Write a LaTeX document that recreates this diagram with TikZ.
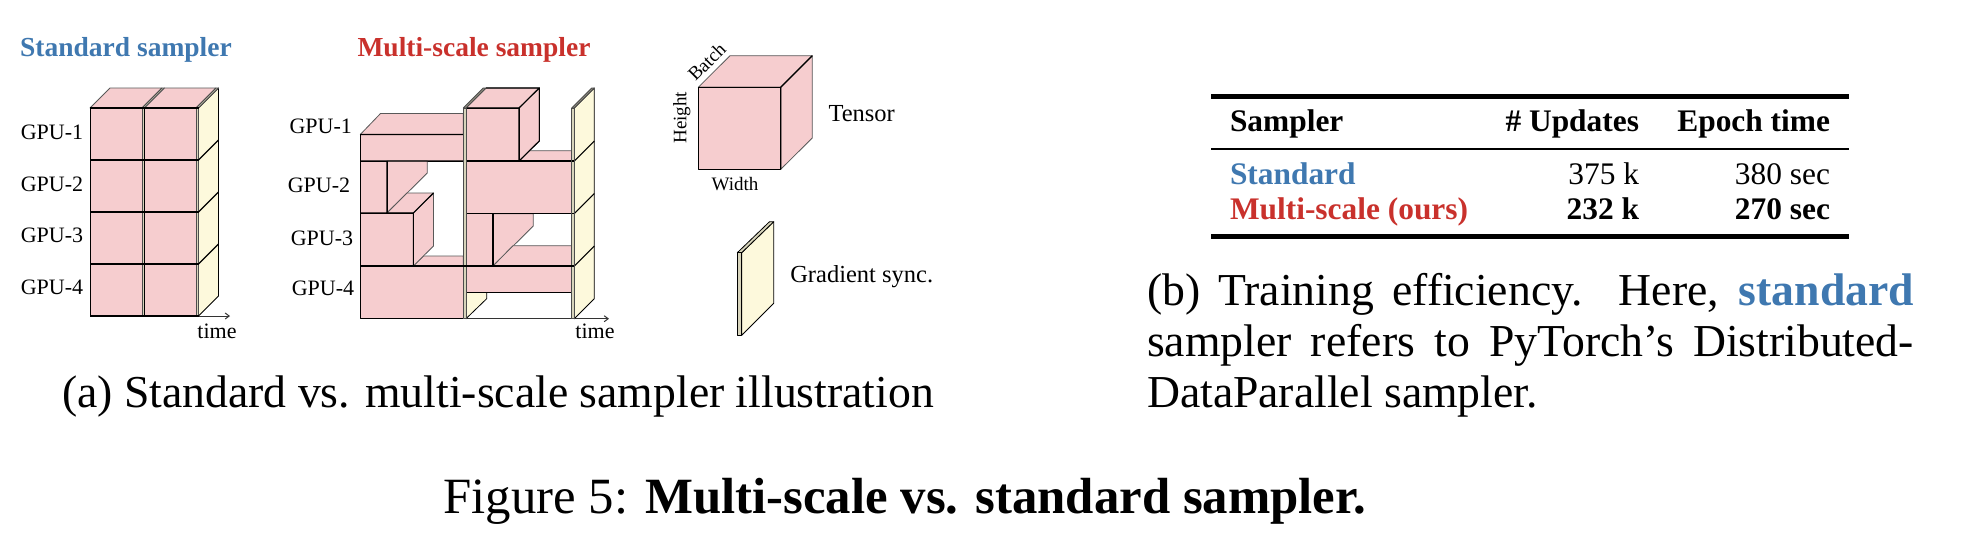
\documentclass[tikz,border=0pt]{standalone}
\usepackage{fontspec}
\setmainfont{Liberation Serif}
\usetikzlibrary{arrows.meta}
\definecolor{pk}{HTML}{F6CDCF}
\definecolor{yl}{HTML}{FDF9DC}
\definecolor{blu}{HTML}{3F78B0}
\definecolor{rd}{HTML}{C9312C}
\newcommand{\fs}[1]{\fontsize{#1}{#1}\selectfont}
\tikzset{
  x=1pt,y=-1pt,
  lab/.style={inner sep=0pt,outer sep=0pt,font=\fs{22}},
  big/.style={inner sep=0pt,outer sep=0pt,font=\fs{24.5}},
  small/.style={inner sep=0pt,outer sep=0pt,font=\fs{19}},
  ttl/.style={inner sep=0pt,outer sep=0pt,font=\fs{27.5}\bfseries,anchor=base},
  tbl/.style={inner sep=0pt,outer sep=0pt,font=\fs{31.4}},
  capt/.style={inner sep=0pt,outer sep=0pt,font=\fs{45.7}},
  capb/.style={inner sep=0pt,outer sep=0pt,font=\fontsize{45.7}{51}\selectfont},
  capf/.style={inner sep=0pt,outer sep=0pt,font=\fs{50.8}},
  pf/.style={fill=pk,draw=black,line width=0.8pt,line join=round},
  pb/.style={fill=pk,draw=black!65,line width=0.8pt,line join=round},
  yf/.style={fill=yl,draw=black,line width=0.8pt,line join=round},
  bl/.style={draw=black,line width=1.1pt},
  ax/.style={draw=black!80,line width=1pt,-{Straight Barb[length=4pt,width=6pt]}},
  rule/.style={draw=black,line width=#1},
}
\begin{document}
\begin{tikzpicture}
\path[use as bounding box,fill=white] (0,0) rectangle (1972,552);

% ---------- Standard sampler ----------
\node[ttl,text=blu] (tstd) at (126,56) {Standard sampler};
\coordinate (sa0) at (90,316); \coordinate (sa1) at (230,316);
\draw[ax] (sa0) -- (sa1);
% slab right faces
\draw[yf] (198.5,108) -- (218.5,88) -- (218.5,296) -- (198.5,316) -- cycle;
\foreach \y in {160,212,264} \draw[bl] (198.5,\y) -- (218.5,\y-20);
% top faces
\draw[pb] (90,108) -- (110,88) -- (162,88) -- (142,108) -- cycle;
\draw[yf,fill=yl!80!black,draw=black!70] (142,108) -- (162,88) -- (164.5,88) -- (144.5,108) -- cycle;
\draw[pb] (144.5,108) -- (164.5,88) -- (216,88) -- (196,108) -- cycle;
\draw[yf,fill=yl!80!black,draw=black!70] (196,108) -- (216,88) -- (218.5,88) -- (198.5,108) -- cycle;
% fronts
\foreach \y in {108,160,212,264}{
  \draw[pf] (90,\y) rectangle (142,\y+52);
  \draw[yf,fill=yl!85!black,draw=black!70] (142,\y) rectangle (144.5,\y+52);
  \draw[pf] (144.5,\y) rectangle (196,\y+52);
  \draw[yf,fill=yl!85!black,draw=black!70] (196,\y) rectangle (198.5,\y+52);
}
\foreach \y in {108,160,212,264} \draw[bl] (90,\y) -- (198.5,\y);
\draw[bl] (90,316) -- (198.5,316);
\node[lab] (s1) at (52,132) {GPU-1};
\node[lab] (s2) at (52,184) {GPU-2};
\node[lab] (s3) at (52,235) {GPU-3};
\node[lab] (s4) at (52,287) {GPU-4};
\node[lab] (stime) at (217,331) {time};

% ---------- Multi-scale sampler ----------
\node[ttl,text=rd] (tms) at (474,56) {Multi-scale sampler};
\coordinate (ma0) at (466,318.7); \coordinate (ma1) at (609,318.7);
\draw[ax] (ma0) -- (ma1);
% yellow peeking behind first slab
\draw[yf] (466,292.3) -- (486.7,292.3) -- (486.7,298.7) -- (466,318.7) -- cycle;
% second slab yellow face
\draw[yf] (574.3,108) -- (594.3,88) -- (594.3,298.7) -- (574.3,318.7) -- cycle;
\foreach \y in {161,213.5,266} \draw[bl] (574.3,\y) -- (594.3,\y-20);
\draw[yf,fill=yl!60!black,draw=black!70] (571.7,108) -- (591.7,88) -- (594.3,88) -- (574.3,108) -- cycle;
% left group
\draw[pb] (360.3,134.5) -- (380.5,113.5) -- (463.3,113.5) -- (463.3,134.5) -- cycle;
\draw[pf] (360.3,134.5) rectangle (463.3,161);
\draw[pb] (387,161) -- (427.3,161) -- (427.3,173) -- (387,213) -- cycle;
\draw[pf] (360.3,161) rectangle (387,213);
\draw[pb] (413.3,266) -- (423.5,256) -- (463.3,256) -- (463.3,266) -- cycle;
\draw[pb] (387,213) -- (407,193) -- (433.5,193) -- (413.3,213) -- cycle;
\draw[pb] (413.3,213) -- (433.5,193) -- (433.5,246) -- (413.3,266) -- cycle;
\draw[pf] (360.3,213) rectangle (413.3,266);
\draw[pf] (360.3,266) rectangle (463.3,318.7);
\draw[bl] (360.3,134.5) -- (463.3,134.5) (360.3,161) -- (463.3,161) (360.3,213) -- (413.3,213) -- (413.3,266) (360.3,266) -- (463.3,266) (387,161) -- (387,213) (413.3,213) -- (433.5,193);
% right group
\draw[pb] (466,108) -- (486,88) -- (539.3,88) -- (519,108) -- cycle;
\draw[pb] (519,161) -- (529,150.7) -- (571.7,150.7) -- (571.7,161) -- cycle;
\draw[pb] (519,108) -- (539.3,88) -- (539.3,141) -- (519,161) -- cycle;
\draw[pf] (466,108) rectangle (519,161);
\draw[pb] (493,213.7) -- (533.3,213.7) -- (533.3,226) -- (493,266) -- cycle;
\draw[pb] (493,266) -- (513,245.7) -- (571.7,245.7) -- (571.7,266) -- cycle;
\draw[pf] (466,161) rectangle (571.7,213.7);
\draw[pf] (466,213.7) rectangle (493,266);
\draw[pf] (466,266) rectangle (571.7,292.3);
\draw[bl] (466,108) -- (519,108) -- (519,161) (519,108) -- (539.3,88) (519,161) -- (539.3,141) -- (539.3,88) -- (486,88);
\draw[bl] (466,161) -- (571.7,161) (463.3,213.7) -- (571.7,213.7) (493,213.7) -- (493,266) (466,266) -- (571.7,266) (466,292.3) -- (571.7,292.3);
% slabs
\draw[yf,fill=yl!60!black,draw=black!70] (463.3,108) -- (483.3,88) -- (486,88) -- (466,108) -- cycle;
\draw[yf,fill=yl!85!black,draw=black!70] (463.3,108) rectangle (466,318.7);
\draw[yf,fill=yl!85!black,draw=black!70] (571.7,108) rectangle (574.3,318.7);
\foreach \y in {161,213.5,266} \draw[bl] (571.7,\y) -- (574.3,\y);
\draw[bl] (360.3,266) -- (574.3,266);
\node[lab] (m1) at (320.7,126) {GPU-1};
\node[lab] (m2) at (319,185) {GPU-2};
\node[lab] (m3) at (322,238) {GPU-3};
\node[lab] (m4) at (323,288) {GPU-4};
\node[lab] (mtime) at (595,331) {time};

% ---------- Legend ----------
\draw[pb] (698.3,87.3) -- (730,55.7) -- (812.3,55.7) -- (780.7,87.3) -- cycle;
\draw[pb] (780.7,87.3) -- (812.3,55.7) -- (812.3,138) -- (780.7,169.3) -- cycle;
\draw[pf] (698.3,87.3) rectangle (780.7,169.3);
\draw[bl] (698.3,87.3) -- (780.7,87.3) -- (780.7,169.3) (780.7,87.3) -- (812.3,55.7);
\node[small,rotate=45] (lb) at (706.7,61.7) {Batch};
\node[small,rotate=90] (lh) at (681.7,117.7) {Height};
\node[small] (lw) at (735,184) {Width};
\node[big] (lt) at (861.7,114) {Tensor};
\draw[yf] (741.7,252.7) -- (773.7,221.7) -- (773.7,303.3) -- (741.7,335.3) -- cycle;
\draw[yf,fill=yl!85!black] (737.3,252.7) -- (769.5,221.7) -- (773.7,221.7) -- (741.7,252.7) -- cycle;
\draw[yf,fill=yl!85!black] (737.3,252.7) rectangle (741.7,335.3);
\node[big] (lg) at (861.7,277) {Gradient sync.};

% ---------- Captions ----------
\node[capt,anchor=base west] (capa) at (62,407.3) {(a) Standard vs. multi-scale sampler illustration};
\node[capf,anchor=base west] (capf) at (443.6,513.3) {Figure 5: \textbf{Multi-scale vs. standard sampler.}};
\node[capb,anchor=base west,text width=767pt,align=justify] (capb) at (1147,305) {(b) Training efficiency.\ \ Here, \textcolor{blu}{\textbf{standard}}\linebreak sampler refers to PyTorch’s Distributed-\linebreak DataParallel sampler.};

% ---------- Table ----------
\coordinate (r1a) at (1211,96.7); \coordinate (r1b) at (1849,96.7);
\coordinate (r2a) at (1211,149); \coordinate (r2b) at (1849,149);
\coordinate (r3a) at (1211,236.3); \coordinate (r3b) at (1849,236.3);
\draw[rule=4.7pt] (r1a) -- (r1b);
\draw[rule=2.7pt] (r2a) -- (r2b);
\draw[rule=4.7pt] (r3a) -- (r3b);
\node[tbl,anchor=base west] (h1) at (1230,131.7) {\textbf{Sampler}};
\node[tbl,anchor=base east] (h2) at (1639,131.7) {\textbf{\# Updates}};
\node[tbl,anchor=base east] (h3) at (1830,131.7) {\textbf{Epoch time}};
\node[tbl,anchor=base west,text=blu] (c1) at (1230,184) {\textbf{Standard}};
\node[tbl,anchor=base east] (c2) at (1639,184) {375 k};
\node[tbl,anchor=base east] (c3) at (1830,184) {380 sec};
\node[tbl,anchor=base west,text=rd] (d1) at (1230,219) {\textbf{Multi-scale (ours)}};
\node[tbl,anchor=base east] (d2) at (1639,219) {\textbf{232 k}};
\node[tbl,anchor=base east] (d3) at (1830,219) {\textbf{270 sec}};
\end{tikzpicture}
\end{document}
